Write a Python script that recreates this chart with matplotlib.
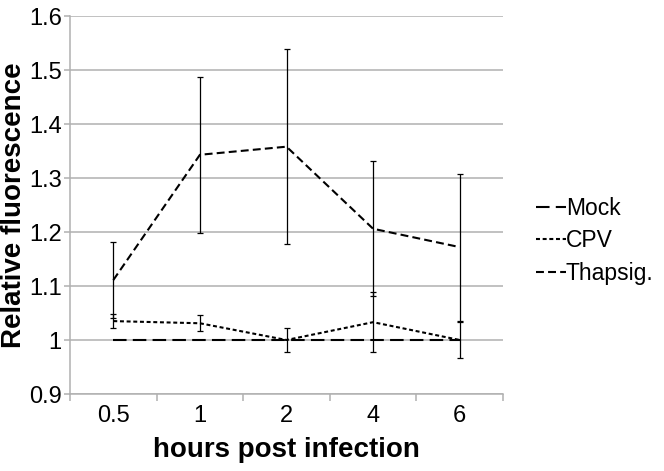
import matplotlib
matplotlib.use("Agg")
import matplotlib.pyplot as plt
from matplotlib.lines import Line2D
import numpy as np

# ---------------------------------------------------------------------------
# Data
# ---------------------------------------------------------------------------
hours = ["0.5", "1", "2", "4", "6"]

mock = [1.0, 1.0, 1.0, 1.0, 1.0]

cpv = [1.035, 1.031, 1.000, 1.033, 1.000]
cpv_err = [0.013, 0.015, 0.022, 0.055, 0.034]

thapsig = [1.111, 1.343, 1.358, 1.206, 1.172]
thapsig_err = [0.070, 0.144, 0.181, 0.125, 0.136]

plt.rcParams["font.family"] = ["Liberation Sans", "DejaVu Sans"]

fig = plt.figure(figsize=(6.64, 4.71), dpi=100)
ax = fig.add_axes([70 / 664, 77 / 471, 433 / 664, 378 / 471])

x = np.arange(len(hours))
grey = "#b0b0b0"

styles = {
    "Mock": (6.5, 3.0),
    "CPV": (1.9, 1.3),
    "Thapsig.": (3.8, 2.0),
}

ax.plot(x, mock, color="black", lw=1.5, dashes=styles["Mock"])
ax.errorbar(x, cpv, yerr=cpv_err, color="black", lw=1.5, dashes=styles["CPV"],
            ecolor="black", elinewidth=0.9, capsize=2.5, capthick=0.9)
ax.errorbar(x, thapsig, yerr=thapsig_err, color="black", lw=1.5,
            dashes=styles["Thapsig."], ecolor="black", elinewidth=0.9,
            capsize=2.5, capthick=0.9)

ax.set_xlim(-0.5, len(hours) - 0.5)
ax.set_ylim(0.9, 1.6)
ax.set_yticks(np.arange(0.9, 1.61, 0.1))
ax.set_yticklabels(["0.9", "1", "1.1", "1.2", "1.3", "1.4", "1.5", "1.6"])
ax.set_xticks(x)
ax.set_xticklabels(hours)
ax.set_xticks(np.arange(-0.5, len(hours)), minor=True)

ax.yaxis.grid(True, color=grey, lw=1.1)
ax.set_axisbelow(True)
for side in ("top", "right"):
    ax.spines[side].set_visible(False)
for side in ("left", "bottom"):
    ax.spines[side].set_color(grey)
    ax.spines[side].set_linewidth(1.1)

ax.tick_params(axis="x", which="major", length=0, labelsize=17, pad=8)
ax.tick_params(axis="x", which="minor", length=5, color=grey, width=1.1)
ax.tick_params(axis="y", length=4, color=grey, width=1.1, labelsize=17, pad=2)

ax.set_xlabel("hours post infection", fontsize=20, fontweight="bold",
              labelpad=7)
ax.set_ylabel("Relative fluorescence", fontsize=20, fontweight="bold",
              labelpad=1)

handles = [Line2D([], [], color="black", lw=1.5, dashes=styles[k])
           for k in styles]
ax.legend(handles, list(styles), loc="center left",
          bbox_to_anchor=(1.05, 0.405), frameon=False, fontsize=16.5,
          handlelength=1.3, handletextpad=0.0, labelspacing=0.42,
          borderpad=0)

fig.savefig("out.png", dpi=100)
